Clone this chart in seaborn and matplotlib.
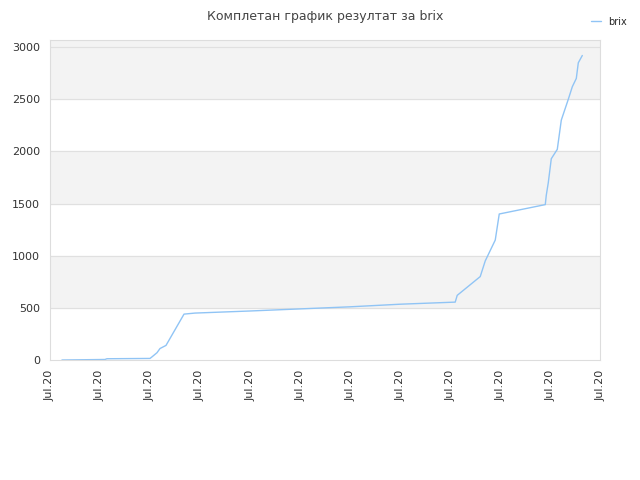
import matplotlib
matplotlib.use("Agg")
import matplotlib.pyplot as plt
import seaborn as sns
import pandas as pd

# x in tick units (0..11, all ticks labelled "Jul.20"), y = cumulative score
x_pos = [0.24, 1.1, 1.14, 2.0, 2.04, 2.14, 2.2, 2.32, 2.68, 2.9, 4.0, 5.0, 6.0, 7.0, 8.1, 8.14,
         8.6, 8.7, 8.9, 8.98, 9.9, 9.92, 9.96, 10.02, 10.14, 10.22, 10.36, 10.44, 10.52, 10.56, 10.64]
scores = [0, 5, 12, 15, 30, 70, 110, 140, 440, 450, 470, 490, 510, 535, 555, 620,
          800, 950, 1150, 1400, 1490, 1580, 1700, 1930, 2020, 2300, 2500, 2620, 2700, 2850, 2920]
tick_labels = ["Jul.20"] * 12

df = pd.DataFrame({"x": x_pos, "score": scores})

sns.set_style("white")
fig, ax = plt.subplots(figsize=(6.4, 4.8), dpi=100)
fig.subplots_adjust(left=0.078, right=0.938, top=0.917, bottom=0.25)

for lo, hi in [(500, 1000), (1500, 2000), (2500, 3070)]:
    ax.axhspan(lo, hi, color="#f3f3f3", zorder=0)
for yv in range(500, 3001, 500):
    ax.axhline(yv, color="#e0e0e0", lw=0.8, zorder=1)

sns.lineplot(data=df, x="x", y="score", ax=ax, color="#90c4f5", lw=1, label="brix")

ax.set_xlim(0, 11)
ax.set_ylim(0, 3070)
ax.set_xticks(range(12))
ax.set_xticklabels(tick_labels, rotation=90, fontsize=8, color="#333333")
ax.set_yticks(range(0, 3001, 500))
ax.tick_params(axis="y", labelsize=8, colors="#333333")
ax.set_xlabel("")
ax.set_ylabel("")
for s in ax.spines.values():
    s.set_color("#dddddd")
ax.set_title("Комплетан график резултат за brix", fontsize=9, color="#444444", pad=14)
ax.legend(loc="upper right", bbox_to_anchor=(1.065, 1.1), frameon=False, fontsize=7,
          handlelength=1)
fig.savefig("out.png")
